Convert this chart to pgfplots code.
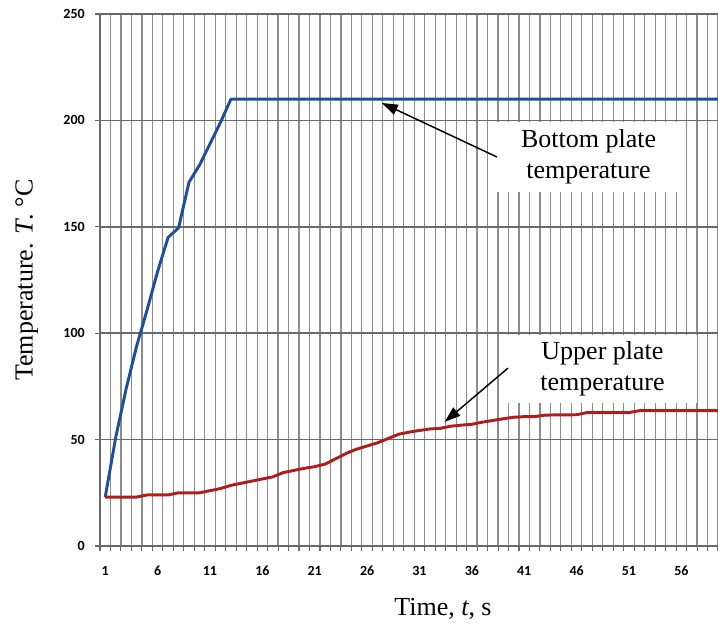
\documentclass[border=0pt]{standalone}
\usepackage{fontspec}
\setmainfont{Liberation Serif}
\newfontfamily\tickfont{Carlito}
\usepackage{pgfplots}
\pgfplotsset{compat=1.18}
\usetikzlibrary{arrows.meta}
\definecolor{botblue}{HTML}{1F4E9E}
\definecolor{upred}{HTML}{AE1C1C}
\definecolor{vgrid}{HTML}{8C8C8C}
\definecolor{hgrid}{HTML}{6C666E}
\newcommand\labfont{\fontsize{19.5}{23}\selectfont}

\begin{document}
\begin{tikzpicture}
\begin{axis}[
  scale only axis, width=463.5pt, height=399pt,
  xmin=0.5, xmax=59.5, ymin=0, ymax=250,
  axis lines*=left,
  axis line style={hgrid, line width=1pt},
  xtick={1,6,...,56}, ytick={0,50,...,250},
  minor xtick={0.5,1.5,...,59.5},
  xminorgrids=true, ymajorgrids=true,
  minor x grid style={vgrid, line width=0.9pt},
  major y grid style={hgrid, line width=1.1pt},
  tick align=outside, major tick length=3.75pt, minor tick length=3.75pt,
  every major x tick/.append style={draw=none},
  tick style={hgrid, line width=0.8pt},
  /pgf/number format/assume math mode=true,
  tick label style={font=\tickfont\bfseries\fontsize{10.5}{12}\selectfont, inner sep=0pt},
  xticklabel shift=11.25pt, yticklabel shift=7.5pt,
  clip=false,
]
\addplot[botblue, line width=2.2pt, line join=round] coordinates {
(1,23)(1.5,37)(2,51)(3,74)(4,94)(5,111)(6,129)(7,145)(8,149.5)(9,171)(10,179)
(11,189)(12,199)(13,210)(14,210)(15,210)(16,210)(17,210)(18,210)(19,210)(20,210)
(21,210)(22,210)(23,210)(24,210)(25,210)(26,210)(27,210)(28,210)(29,210)(30,210)
(31,210)(32,210)(33,210)(34,210)(35,210)(36,210)(37,210)(38,210)(39,210)(40,210)
(41,210)(42,210)(43,210)(44,210)(45,210)(46,210)(47,210)(48,210)(49,210)(50,210)
(51,210)(52,210)(53,210)(54,210)(55,210)(56,210)(57,210)(58,210)(59,210)(59.5,210)
};
\addplot[upred, line width=2.2pt, line join=round] coordinates {
(1,23)(2,23)(3,23)(4,23)(5,24)(6,24)(7,24)(8,25)(9,25)(10,25)
(11,26)(12,27)(13,28.5)(14,29.5)(15,30.5)(16,31.5)(17,32.5)(18,34.5)(19,35.5)(20,36.5)
(21,37.3)(22,38.5)(23,41)(24,43.5)(25,45.5)(26,47)(27,48.5)(28,50.5)(29,52.5)(30,53.5)
(31,54.3)(32,55)(33,55.3)(34,56.3)(35,56.8)(36,57.2)(37,58.2)(38,59)(39,59.8)(40,60.5)
(41,60.8)(42,60.8)(43,61.5)(44,61.6)(45,61.6)(46,61.7)(47,62.7)(48,62.7)(49,62.7)(50,62.7)
(51,62.7)(52,63.6)(53,63.6)(54,63.6)(55,63.6)(56,63.6)(57,63.6)(58,63.6)(59,63.6)(59.5,63.6)
};
\node[fill=white, inner sep=0pt, minimum width=137pt, minimum height=52.5pt, align=center, font=\labfont]
  at (axis cs:47.14,182.8) {Bottom plate\\temperature};
\node[fill=white, inner sep=0pt, minimum width=142pt, minimum height=51pt, align=center, font=\labfont]
  at (axis cs:48.47,83.2) {Upper plate\\temperature};
\draw[black, line width=1.1pt, -{Triangle[length=12pt,width=8pt]}] (axis cs:38.4,182.8) -- (axis cs:27.4,208.2);
\draw[black, line width=1.1pt, -{Triangle[length=12pt,width=8pt]}] (axis cs:39.45,83.6) -- (axis cs:33.4,58.3);
\coordinate (bl) at (rel axis cs:0,0);
\coordinate (tr) at (rel axis cs:1,1);
\coordinate (yl) at (rel axis cs:0,0.5);
\coordinate (xl) at (rel axis cs:0.555,0);
\end{axis}
\node[rotate=90, font=\labfont] at ([xshift=-55pt]yl) {Temperature. \textit{T}. °C};
\node[font=\labfont] at ([yshift=-47pt]xl) {Time, \textit{t}, s};
\pgfresetboundingbox
\path ([shift={(-75pt,-58.5pt)}]bl) rectangle ([shift={(0pt,10.5pt)}]tr);
\end{tikzpicture}
\end{document}
